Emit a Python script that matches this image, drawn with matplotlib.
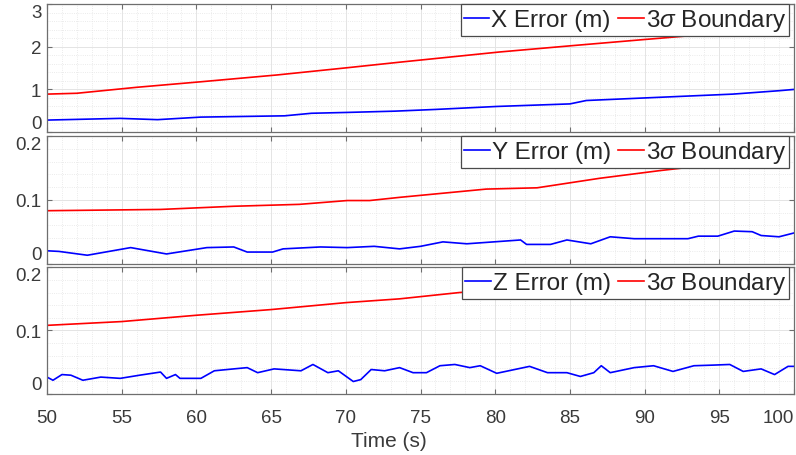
#!/usr/bin/env python3
# -*- coding: utf-8 -*-
"""
plot.py

Position error (X, Y, Z) over time, each with its 3-sigma boundary,
stacked in three panels sharing the time axis.
"""

import matplotlib
matplotlib.use("Agg")
import matplotlib.pyplot as plt
from matplotlib.ticker import AutoMinorLocator

# ==========================
# data

# X error
T_X_ERR = [50, 54.9, 57.4, 60.3, 65.9, 67.7, 70.1, 73.3, 76.0, 80.1, 85.0,
           86.1, 90.0, 95.9, 99.0, 100]
X_ERR = [0.28, 0.32, 0.29, 0.35, 0.38, 0.44, 0.46, 0.49, 0.53, 0.60, 0.66,
         0.74, 0.80, 0.89, 0.97, 1.00]
T_X_BND = [50, 52, 56, 60.3, 65.4, 70.1, 73.6, 80.3, 85.2, 89.9, 95, 99.6]
X_BND = [0.89, 0.91, 1.05, 1.18, 1.34, 1.51, 1.64, 1.88, 2.03, 2.17, 2.32, 2.46]

# Y error
T_Y_ERR = [50, 50.8, 52.7, 55.6, 58.0, 60.7, 62.5, 63.4, 65.1, 65.8, 68.3,
           70.1, 71.9, 73.6, 75.0, 76.5, 78.1, 79.9, 81.7, 82.1, 83.7, 84.8,
           86.4, 87.7, 89.3, 92.9, 93.6, 94.9, 96.0, 97.2, 97.8, 99.0, 100]
Y_ERR = [0.020, 0.019, 0.013, 0.025, 0.015, 0.025, 0.026, 0.018, 0.018,
         0.023, 0.026, 0.025, 0.027, 0.023, 0.027, 0.034, 0.031, 0.034,
         0.037, 0.030, 0.030, 0.037, 0.031, 0.042, 0.039, 0.039, 0.043,
         0.043, 0.051, 0.050, 0.044, 0.042, 0.048]
T_Y_BND = [50, 57.6, 62.5, 66.9, 70.1, 71.6, 73.6, 79.4, 82.8, 87.0, 91.0,
           95.5, 99.6]
Y_BND = [0.083, 0.085, 0.090, 0.093, 0.099, 0.099, 0.104, 0.117, 0.119,
         0.134, 0.146, 0.158, 0.169]

# Z error
T_Z_ERR = [50, 50.4, 51.0, 51.6, 52.4, 53.6, 54.9, 56.2, 57.6, 58.0, 58.6,
           58.9, 60.3, 61.2, 62.5, 63.4, 64.1, 65.2, 67.0, 67.8, 68.8, 69.5,
           70.5, 71.0, 71.7, 72.6, 73.6, 74.5, 75.4, 76.3, 77.3, 78.3, 79.0,
           80.1, 81.5, 82.3, 83.5, 84.8, 85.7, 86.6, 87.1, 87.7, 89.3, 90.6,
           91.9, 93.3, 94.6, 95.7, 96.6, 97.8, 98.7, 99.6, 100]
Z_ERR = [0.026, 0.021, 0.030, 0.029, 0.021, 0.026, 0.024, 0.029, 0.034,
         0.024, 0.030, 0.024, 0.024, 0.036, 0.039, 0.041, 0.033, 0.039,
         0.036, 0.046, 0.033, 0.036, 0.019, 0.022, 0.038, 0.036, 0.041,
         0.033, 0.033, 0.044, 0.046, 0.041, 0.044, 0.032, 0.039, 0.043,
         0.033, 0.033, 0.027, 0.033, 0.044, 0.033, 0.041, 0.044, 0.035,
         0.044, 0.045, 0.046, 0.035, 0.039, 0.030, 0.043, 0.043]
T_Z_BND = [50, 55, 60, 65, 70, 73.6, 77.6, 85, 90, 95, 100]
Z_BND = [0.108, 0.114, 0.124, 0.133, 0.144, 0.150, 0.160, 0.173, 0.182,
         0.191, 0.201]

ERR_LABELS = ["X Error (m)", "Y Error (m)", "Z Error (m)"]
BND_LABEL = r"3$\sigma$ Boundary"
Y_LIMITS = [(0, 3), (0, 0.2), (0, 0.2)]
Y_TICKS = [[0, 1, 2, 3], [0, 0.1, 0.2], [0, 0.1, 0.2]]
Y_TICKLABELS = [["0", "1", "2", "3"], ["0", "0.1", "0.2"], ["0", "0.1", "0.2"]]
X_TICKS = [50, 55, 60, 65, 70, 75, 80, 85, 90, 95, 100]

# ==========================

plt.rcParams["font.family"] = ["Liberation Sans", "DejaVu Sans"]
plt.rcParams["mathtext.fontset"] = "custom"
plt.rcParams["mathtext.rm"] = "Liberation Sans"
plt.rcParams["mathtext.it"] = "Liberation Sans:italic"

AX_COLOR = "#6e6e6e"
TXT_COLOR = "#3a3a3a"

W, H = 796, 456
LEFT, RIGHT = 47, 794
# panel (top, bottom) in pixels
PANELS = [(5.3, 133.0), (137.3, 264.5), (268.3, 394.5)]


def main():
    fig = plt.figure(figsize=(W / 100, H / 100), dpi=100)

    series = [
        (T_X_ERR, X_ERR, T_X_BND, X_BND),
        (T_Y_ERR, Y_ERR, T_Y_BND, Y_BND),
        (T_Z_ERR, Z_ERR, T_Z_BND, Z_BND),
    ]

    axes = []
    for i, (top, bot) in enumerate(PANELS):
        rect = [LEFT / W, 1 - bot / H, (RIGHT - LEFT) / W, (bot - top) / H]
        ax = fig.add_axes(rect, sharex=axes[0] if axes else None)
        axes.append(ax)

        t_err, err, t_bnd, bnd = series[i]
        ax.plot(t_err, err, color="#0000ff", lw=1.2, label=ERR_LABELS[i])
        ax.plot(t_bnd, bnd, color="#ff0000", lw=1.2, label=BND_LABEL)

        ax.set_xlim(50, 100)
        ax.set_ylim(*Y_LIMITS[i])
        ax.set_xticks(X_TICKS)
        ax.set_yticks(Y_TICKS[i])
        ylabels = ax.set_yticklabels(Y_TICKLABELS[i])
        # keep end labels inside the panel so neighbouring panels don't clash
        ylabels[0].set_verticalalignment("bottom")
        ylabels[-1].set_verticalalignment("top")
        ax.xaxis.set_minor_locator(AutoMinorLocator(5))
        ax.yaxis.set_minor_locator(AutoMinorLocator(5))

        ax.grid(True, which="major", color="#e4e4e4", lw=0.7)
        ax.grid(True, which="minor", color="#e4e4e4", lw=0.6, ls=":")
        ax.set_axisbelow(True)

        for s in ax.spines.values():
            s.set_color(AX_COLOR)
            s.set_linewidth(0.9)
        ax.tick_params(which="major", direction="in", length=3.5, width=0.8,
                       color=AX_COLOR, top=True, right=True,
                       labelsize=13.5, labelcolor=TXT_COLOR)
        ax.tick_params(axis="y", which="major", pad=4)
        ax.tick_params(axis="x", which="major", pad=11)
        ax.tick_params(which="minor", length=0)

        if i < 2:
            ax.tick_params(axis="x", labelbottom=False)

        leg = ax.legend(loc="upper right", bbox_to_anchor=(0.9933, 1.0),
                        ncol=2, fontsize=17.5, frameon=True, fancybox=False,
                        framealpha=1.0, borderaxespad=0, borderpad=0.12,
                        handlelength=1.05, handletextpad=0.08,
                        columnspacing=0.3)
        leg.get_frame().set_edgecolor("#4a4a4a")
        leg.get_frame().set_linewidth(0.9)
        for txt in leg.get_texts():
            txt.set_color("#262626")

    ax3 = axes[-1]
    xlabels = ax3.get_xticklabels()
    xlabels[-1].set_horizontalalignment("right")
    ax3.set_xlabel("Time (s)", fontsize=15, color=TXT_COLOR)
    ax3.xaxis.set_label_coords((389 - LEFT) / (RIGHT - LEFT), -0.3)

    fig.savefig("out.png", dpi=100)
    plt.close(fig)


if __name__ == "__main__":
    main()
